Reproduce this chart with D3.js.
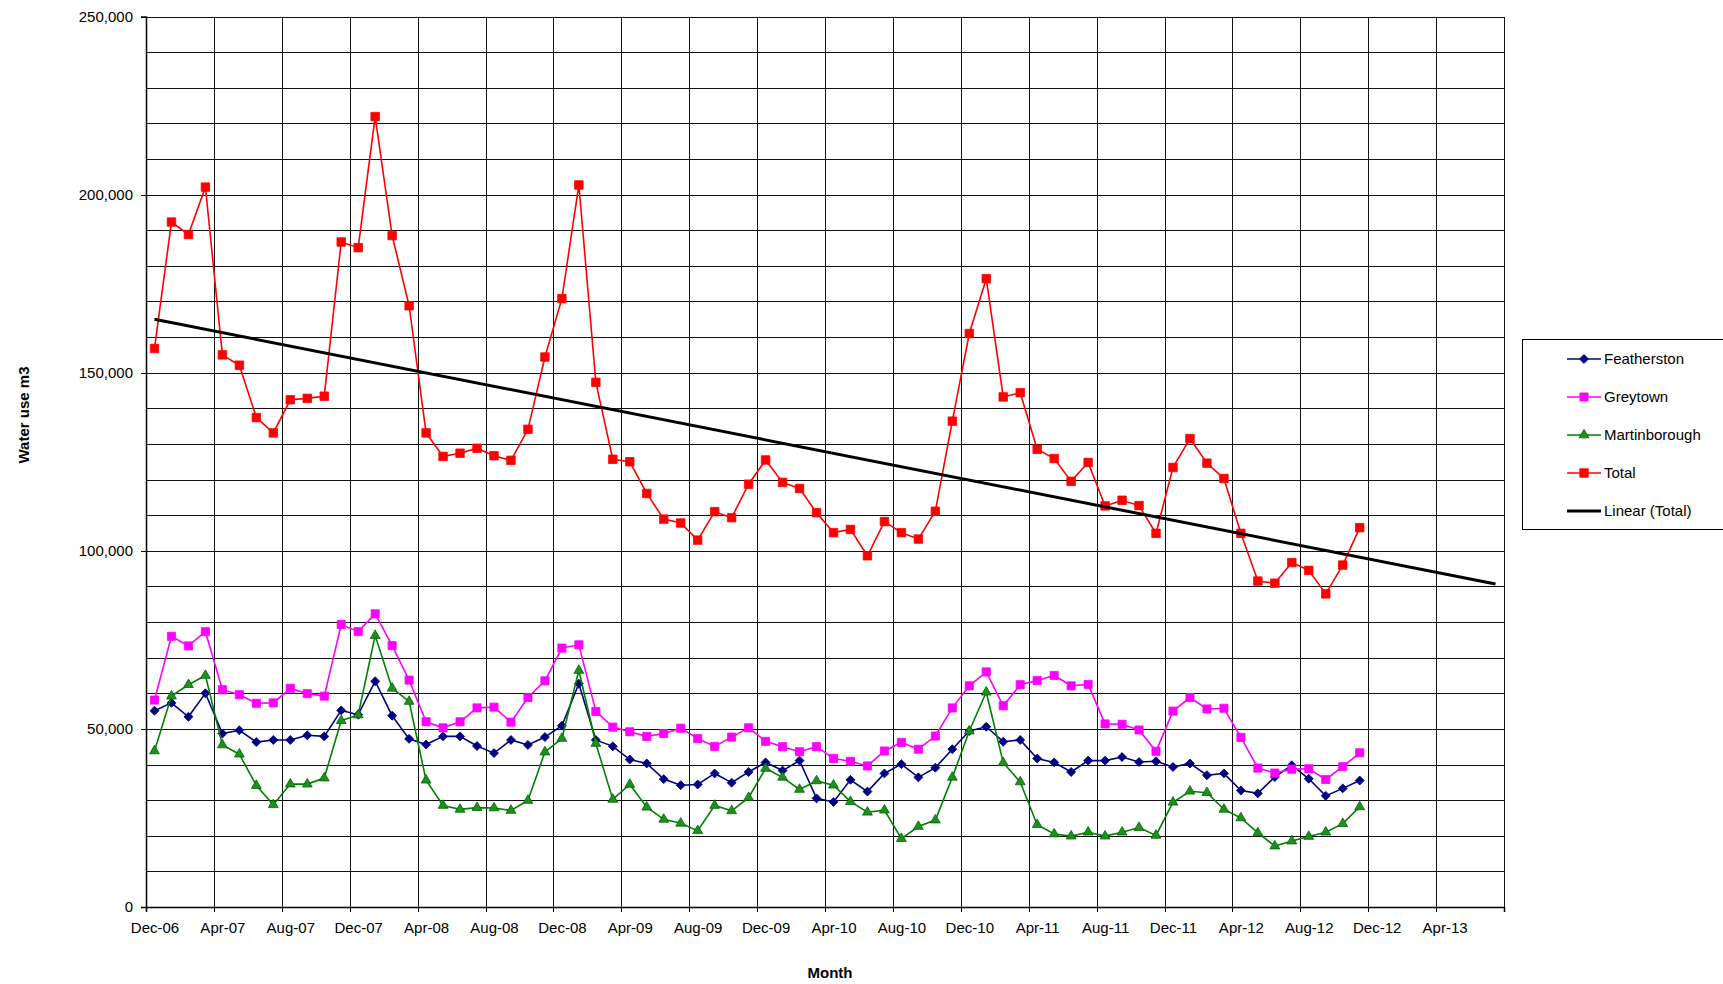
<!DOCTYPE html>
<html>
<head>
<meta charset="utf-8">
<script src="https://cdn.jsdelivr.net/npm/d3@7"></script>
<style>
  body { margin: 0; background: #fff; }
  svg { display: block; font-family: "Liberation Sans", Arial, sans-serif; }
</style>
</head>
<body>
<div id="chart"></div>
<script>
// monthly water use (m3), Dec-06 .. Nov-12
const featherston = [55100, 57300, 53400, 60000, 48700, 49600, 46300, 46900, 46900, 48200, 47900, 55200, 54000, 63400, 53700, 47200, 45600, 47900, 47900, 45200, 43200,
    46900, 45500, 47700, 50900, 62700, 46900, 45100, 41400, 40300, 35900, 34200, 34400, 37500, 34900, 37900, 40600, 38300, 41100, 30500, 29500, 35700,
    32400, 37500, 40100, 36400, 39100, 44300, 49400, 50600, 46400, 46900, 41700, 40600, 37900, 41100, 41100, 42100, 40700, 40900, 39300, 40300, 37000,
    37500, 32700, 31900, 36500, 39800, 36000, 31200, 33300, 35500];

const greytown = [58100, 76000, 73300, 77300, 61000, 59600, 57200, 57300, 61400, 59900, 59200, 79300, 77300, 82300, 73400, 63700, 52000, 50300, 52000, 55900, 56100,
    51900, 58800, 63500, 72700, 73600, 54900, 50500, 49200, 47900, 48700, 50200, 47300, 45100, 47700, 50300, 46500, 45000, 43600, 45000, 41700, 40900,
    39600, 43800, 46200, 44300, 48000, 55900, 62100, 66000, 56500, 62400, 63600, 65000, 62100, 62500, 51400, 51300, 49700, 43700, 55000, 58800, 55600,
    55800, 47600, 39000, 37600, 38700, 38800, 35800, 39400, 43300];

const martinborough = [43800, 59200, 62400, 65000, 45500, 42900, 34100, 28700, 34500, 34500, 36200, 52300, 53900, 76200, 61400, 57700, 35600, 28500, 27400, 27900, 27800,
    27100, 29900, 43500, 47300, 66400, 45900, 30200, 34400, 28000, 24600, 23500, 21400, 28500, 27000, 30700, 38900, 36400, 33000, 35400, 34200, 29600,
    26600, 27200, 19200, 22600, 24400, 36400, 49400, 60300, 40500, 35100, 23100, 20500, 19900, 21000, 19900, 21000, 22300, 20100, 29400, 32500, 32100,
    27400, 25000, 20800, 17100, 18500, 19800, 21000, 23400, 28100];

const total = [156800, 192300, 188800, 202100, 155000, 152100, 137400, 133100, 142400, 142800, 143400, 186700, 185100, 221900, 188500, 168800, 133100, 126500, 127400, 128800, 126700,
    125400, 134100, 154400, 170800, 202700, 147300, 125700, 125000, 116100, 108900, 107800, 103000, 111000, 109300, 118700, 125500, 119200, 117500, 110700, 105100, 106000,
    98600, 108200, 105100, 103300, 111100, 136400, 161000, 176400, 143200, 144400, 128500, 125900, 119500, 124800, 112600, 114200, 112700, 104900, 123400, 131500, 124600,
    120300, 104900, 91500, 90900, 96700, 94500, 87900, 96000, 106500];

// linear trend of Total, read at its two ends (Dec-06 and Jul-13)
const trendMonths = [0, 79];
const trendValues = [165000, 90700];

const tickLabels = ['Dec-06', 'Apr-07', 'Aug-07', 'Dec-07', 'Apr-08', 'Aug-08', 'Dec-08', 'Apr-09', 'Aug-09', 'Dec-09',
    'Apr-10', 'Aug-10', 'Dec-10', 'Apr-11', 'Aug-11', 'Dec-11', 'Apr-12', 'Aug-12', 'Dec-12', 'Apr-13'];

const seriesNames = ['Featherston', 'Greytown', 'Martinborough', 'Total'];

drawChart();

function drawChart() {
    const width = 1723;
    const height = 984;
    const plot = { left: 146, right: 1504, top: 16.5, bottom: 907 };

    const svg = d3.select('#chart').append('svg')
        .attr('width', width)
        .attr('height', height);

    const x = d3.scaleLinear().domain([0, 80]).range([plot.left, plot.right]);
    const y = d3.scaleLinear().domain([0, 250000]).range([plot.bottom, plot.top]);

    // gridlines
    const hGrid = svg.append('g')
        .attr('transform', `translate(${plot.left},0)`)
        .call(d3.axisLeft(y)
            .tickValues(d3.range(10000, 250001, 10000))
            .tickSize(-(plot.right - plot.left))
            .tickFormat(''));
    hGrid.select('.domain').remove();

    const vGrid = svg.append('g')
        .attr('transform', `translate(0,${plot.bottom})`)
        .call(d3.axisBottom(x)
            .tickValues(d3.range(4, 81, 4))
            .tickSize(-(plot.bottom - plot.top))
            .tickFormat(''));
    vGrid.select('.domain').remove();

    svg.selectAll('.tick line')
        .attr('stroke', '#111')
        .attr('shape-rendering', 'crispEdges');

    // axes
    const yAxis = svg.append('g')
        .attr('transform', `translate(${plot.left},0)`)
        .call(d3.axisLeft(y)
            .tickValues(d3.range(0, 250001, 50000))
            .tickSize(5)
            .tickPadding(8)
            .tickFormat(d3.format(',')));

    const xAxis = svg.append('g')
        .attr('transform', `translate(0,${plot.bottom})`)
        .call(d3.axisBottom(x)
            .tickValues(d3.range(0, 81, 4))
            .tickSize(5)
            .tickFormat(''));

    const xLabels = svg.append('g')
        .attr('transform', `translate(0,${plot.bottom})`)
        .call(d3.axisBottom(x)
            .tickValues(tickLabels.map((d, i) => i * 4 + 0.5))
            .tickSize(0)
            .tickPadding(15)
            .tickFormat((d, i) => tickLabels[i]));
    xLabels.select('.domain').remove();

    [yAxis, xAxis].forEach(g => {
        g.select('.domain').attr('stroke', '#000').attr('stroke-width', 1.5);
        g.selectAll('.tick line').attr('stroke', '#000').attr('shape-rendering', 'crispEdges');
    });
    svg.selectAll('.tick text')
        .attr('font-size', 15)
        .attr('fill', '#000')
        .attr('font-family', '"Liberation Sans", Arial, sans-serif');

    // titles
    svg.append('text')
        .attr('x', (plot.left + plot.right) / 2 + 5)
        .attr('y', 978)
        .attr('text-anchor', 'middle')
        .attr('font-size', 15)
        .attr('font-weight', 'bold')
        .text('Month');

    svg.append('text')
        .attr('transform', 'translate(29,415) rotate(-90)')
        .attr('text-anchor', 'middle')
        .attr('font-size', 15)
        .attr('font-weight', 'bold')
        .text('Water use m3');

    // series
    const styles = [
        { color: '#000080', symbol: d3.symbolSquare, size: 40, rotate: 45, fill: '#000080', stroke: '#000080' },
        { color: '#FF00FF', symbol: d3.symbolSquare, size: 66, rotate: 0, fill: '#FF00FF', stroke: '#FF00FF' },
        { color: '#008000', symbol: d3.symbolTriangle, size: 42, rotate: 0, fill: '#1f8f1f', stroke: '#006400' },
        { color: '#FF0000', symbol: d3.symbolSquare, size: 72, rotate: 0, fill: '#FF0000', stroke: '#FF0000' },
    ];
    const seriesData = [featherston, greytown, martinborough, total];

    const line = d3.line()
        .x((d, i) => x(i + 0.5))
        .y(d => y(d));

    seriesData.forEach((values, k) => {
        const s = styles[k];
        const g = svg.append('g').attr('class', 'series');
        g.append('path')
            .datum(values)
            .attr('d', line)
            .attr('fill', 'none')
            .attr('stroke', s.color)
            .attr('stroke-width', 1.6);
        g.selectAll('path.marker')
            .data(values)
            .join('path')
            .attr('class', 'marker')
            .attr('d', d3.symbol(s.symbol, s.size))
            .attr('transform', (d, i) => `translate(${x(i + 0.5)},${y(d)}) rotate(${s.rotate})`)
            .attr('fill', s.fill)
            .attr('stroke', s.stroke)
            .attr('stroke-width', 0.8);
    });

    // trendline
    svg.append('path')
        .datum(trendMonths.map((m, i) => [m, trendValues[i]]))
        .attr('d', d3.line().x(d => x(d[0] + 0.5)).y(d => y(d[1])))
        .attr('stroke', '#000')
        .attr('stroke-width', 3)
        .attr('fill', 'none');

    // legend
    const legend = svg.append('g').attr('class', 'legend');
    legend.append('rect')
        .attr('x', 1522.5)
        .attr('y', 339.5)
        .attr('width', 215)
        .attr('height', 190)
        .attr('fill', '#fff')
        .attr('stroke', '#000')
        .attr('stroke-width', 1);

    const legendNames = seriesNames.concat(['Linear (Total)']);
    const items = legend.selectAll('g.item')
        .data(legendNames)
        .join('g')
        .attr('class', 'item')
        .attr('transform', (d, i) => `translate(0,${359 + i * 38})`);

    items.append('line')
        .attr('x1', 1567).attr('x2', 1601)
        .attr('stroke', (d, i) => i < 4 ? styles[i].color : '#000')
        .attr('stroke-width', (d, i) => i < 4 ? 1.6 : 3);

    items.filter((d, i) => i < 4)
        .append('path')
        .attr('d', (d, i) => d3.symbol(styles[i].symbol, styles[i].size)())
        .attr('transform', (d, i) => `translate(1584,0) rotate(${styles[i].rotate})`)
        .attr('fill', (d, i) => styles[i].fill)
        .attr('stroke', (d, i) => styles[i].stroke)
        .attr('stroke-width', 0.8);

    items.append('text')
        .attr('x', 1604)
        .attr('dy', '0.35em')
        .attr('font-size', 15)
        .text(d => d);
}
</script>
</body>
</html>
